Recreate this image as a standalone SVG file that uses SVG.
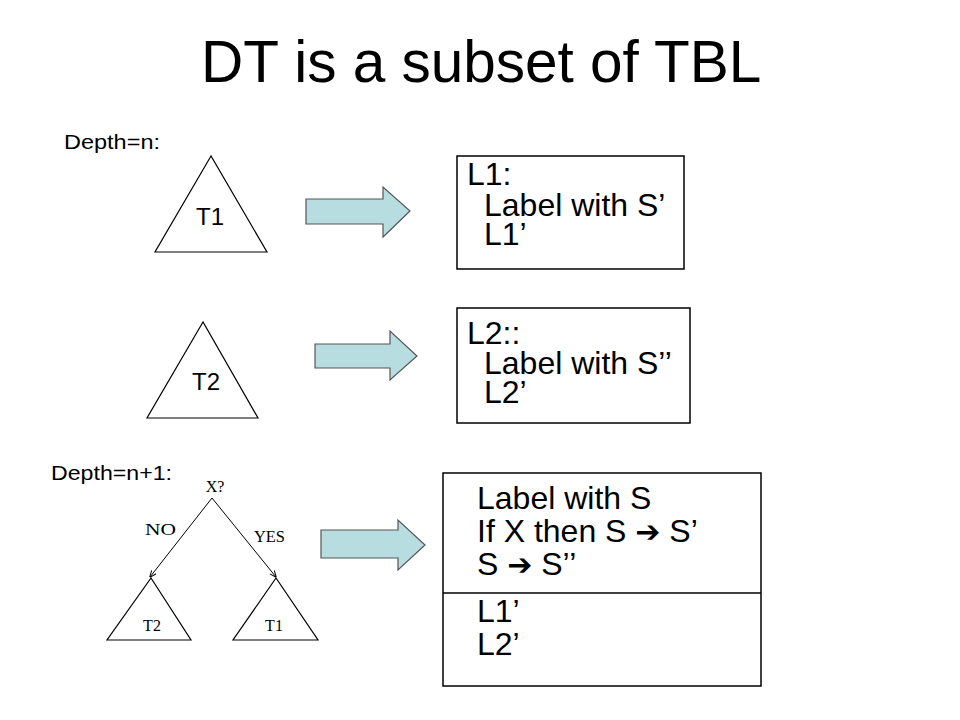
<svg xmlns="http://www.w3.org/2000/svg" width="960" height="720" viewBox="0 0 960 720">
<defs>
<style>
.sans{font-family:"Liberation Sans",Arial,sans-serif;fill:#000}
.serif{font-family:"Liberation Serif","Times New Roman",serif;fill:#000}
.tri{fill:none;stroke:#000;stroke-width:1.2}
.box{fill:#fff;stroke:#000;stroke-width:1.5}
.bigarrow{fill:#B7DDE0;stroke:#555;stroke-width:1.2}
.edge{fill:none;stroke:#000;stroke-width:1}
.t32{font-size:32px}
.sym{font-family:"DejaVu Sans",sans-serif;font-weight:bold;font-size:30px}
</style>
<marker id="ah" viewBox="0 0 10 10" refX="9" refY="5" markerWidth="7" markerHeight="7" orient="auto-start-reverse" markerUnits="userSpaceOnUse">
<path d="M0,1 L10,5 L0,9" fill="none" stroke="#000" stroke-width="1.4"/>
</marker>
</defs>
<rect width="960" height="720" fill="#fff"/>
<text id="title" class="sans" x="201" y="82" font-size="58.5">DT is a subset of TBL</text>
<text id="depth-n" class="sans" x="64" y="149" font-size="20" textLength="96" lengthAdjust="spacingAndGlyphs">Depth=n:</text>
<text id="depth-n1" class="sans" x="51" y="480" font-size="21" textLength="121" lengthAdjust="spacingAndGlyphs">Depth=n+1:</text>

<g id="tree-T1">
<polygon class="tri" points="211,156 155,252 267,252"/>
<text class="sans" x="210" y="225" font-size="24" text-anchor="middle">T1</text>
</g>
<g id="tree-T2">
<polygon class="tri" points="203,322 147,418 258,418"/>
<text class="sans" x="206" y="390" font-size="24" text-anchor="middle">T2</text>
</g>

<g id="box-L1">
<rect class="box" x="457" y="156" width="227" height="113"/>
<text class="sans t32" x="467" y="185">L1:</text>
<text class="sans t32" x="484" y="216">Label with S’</text>
<text class="sans t32" x="484" y="245">L1’</text>
</g>
<g id="box-L2">
<rect class="box" x="457" y="308" width="233" height="115"/>
<text class="sans t32" x="467" y="344">L2::</text>
<text class="sans t32" x="484" y="374">Label with S’’</text>
<text class="sans t32" x="484" y="403">L2’</text>
</g>
<g id="box-combined">
<rect class="box" x="443" y="473" width="318" height="213"/>
<line x1="443" y1="593" x2="761" y2="593" stroke="#000" stroke-width="1.5"/>
<text class="sans t32" x="477" y="509">Label with S</text>
<text class="sans t32" x="477" y="542">If X then S <tspan class="sym">➔</tspan> S’</text>
<text class="sans t32" x="477" y="575">S <tspan class="sym">➔</tspan> S’’</text>
<text class="sans t32" x="477" y="622">L1’</text>
<text class="sans t32" x="477" y="655">L2’</text>
</g>

<g id="decision-tree">
<text class="serif" x="215" y="492" font-size="16" text-anchor="middle">X?</text>
<polygon class="tri" points="151,578 107,640 191,640"/>
<text class="serif" x="152" y="631" font-size="16" text-anchor="middle">T2</text>
<polygon class="tri" points="276,578 233,640 318,640"/>
<text class="serif" x="274" y="631" font-size="16" text-anchor="middle">T1</text>
<text class="serif" x="145" y="535" font-size="17" textLength="31" lengthAdjust="spacingAndGlyphs">NO</text>
<text class="serif" x="254" y="542" font-size="17" textLength="31" lengthAdjust="spacingAndGlyphs">YES</text>
</g>

<g id="connectors">
<line class="edge" x1="212" y1="498" x2="150" y2="577" marker-end="url(#ah)"/>
<line class="edge" x1="212" y1="498" x2="276" y2="577" marker-end="url(#ah)"/>
<polygon class="bigarrow" points="306,199 383,199 383,187 410,211 383,237 383,224 306,224"/>
<polygon class="bigarrow" points="315,344 390,344 390,331 417,356 390,380 390,368 315,368"/>
<polygon class="bigarrow" points="321,530 398,530 398,520 425,545 398,570 398,558 321,558"/>
</g>
</svg>
